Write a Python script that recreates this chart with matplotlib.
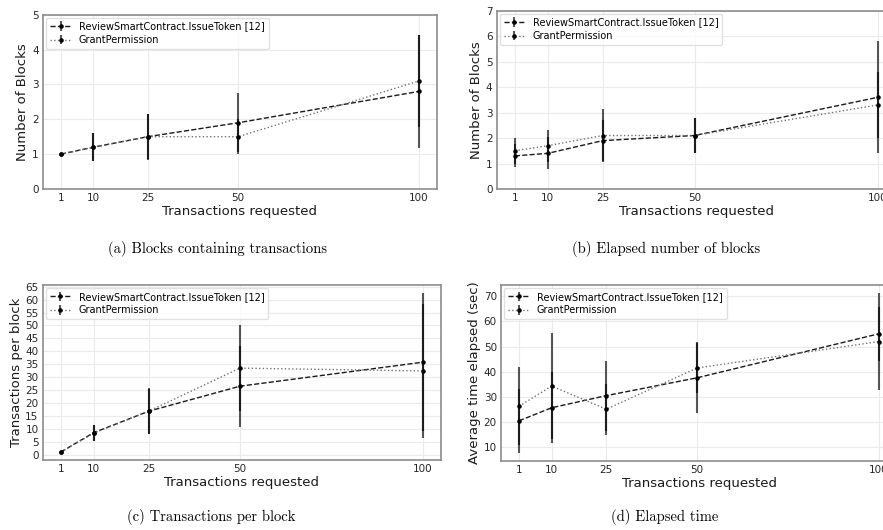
import numpy as np
import matplotlib
matplotlib.use("Agg")
import matplotlib.pyplot as plt

# x positions (transactions requested)
tx = [1, 10, 25, 50, 100]

# (a) blocks containing transactions
a_review = [1.0, 1.2, 1.5, 1.9, 2.8]
a_review_err = [0.0, 0.4, 0.65, 0.85, 1.62]
a_grant = [1.0, 1.2, 1.5, 1.5, 3.1]
a_grant_err = [0.0, 0.41, 0.66, 0.5, 1.32]

# (b) elapsed number of blocks
b_review = [1.3, 1.4, 1.9, 2.1, 3.6]
b_review_err = [0.45, 0.63, 0.82, 0.7, 2.2]
b_grant = [1.5, 1.7, 2.1, 2.1, 3.3]
b_grant_err = [0.52, 0.63, 1.05, 0.7, 1.3]

# (c) transactions per block
c_review = [1.0, 8.5, 16.8, 26.5, 35.8]
c_review_err = [0.0, 3.1, 8.7, 15.7, 26.8]
c_grant = [1.0, 8.3, 16.8, 33.5, 32.4]
c_grant_err = [0.0, 3.1, 9.0, 16.7, 26.0]

# (d) elapsed time (sec)
d_review = [20.5, 25.7, 30.5, 37.6, 55.1]
d_review_err = [12.8, 14.0, 13.9, 14.1, 10.8]
d_grant = [26.3, 34.3, 25.1, 41.5, 52.0]
d_grant_err = [15.6, 21.0, 10.2, 10.0, 19.3]

label_review = "ReviewSmartContract.IssueToken [12]"
label_grant = "GrantPermission"

W, H = 883, 530
fig = plt.figure(figsize=(W / 100, H / 100), dpi=100)


def rect(left, right, top, bottom):
    return [left / W, 1 - bottom / H, (right - left) / W, (bottom - top) / H]


def panel(r, review, review_err, grant, grant_err, ylabel, ylim=None, yticks=None):
    ax = fig.add_axes(r)
    ax.errorbar(tx, review, yerr=review_err, color="0.1", ls="--", lw=1.0,
                marker=".", ms=4.5, mfc="k", mec="k", ecolor=(0, 0, 0, 0.65),
                elinewidth=1.5, label=label_review)
    ax.errorbar(tx, grant, yerr=grant_err, color="0.45", ls=":", lw=1.0,
                marker=".", ms=4.5, mfc="k", mec="k", ecolor=(0, 0, 0, 0.65),
                elinewidth=1.5, label=label_grant)
    ax.set_xticks(tx)
    if ylim is not None:
        ax.set_ylim(*ylim)
    if yticks is not None:
        ax.set_yticks(yticks)
    ax.grid(True, color="0.92", lw=0.8)
    ax.set_axisbelow(True)
    for s in ax.spines.values():
        s.set_color("0.55")
        s.set_linewidth(1.2)
    ax.tick_params(length=0, labelsize=7.5, colors="0.15", pad=3)
    ax.set_xlabel("Transactions requested", fontsize=9.5, color="0.1", labelpad=1)
    ax.set_ylabel(ylabel, fontsize=9.5, color="0.1", labelpad=2)
    ax.legend(loc="upper left", fontsize=7, framealpha=0.8, edgecolor="0.85",
              borderaxespad=0.3, handlelength=2.2, labelspacing=0.35)
    return ax


panel(rect(43, 437, 14.7, 189), a_review, a_review_err, a_grant, a_grant_err,
      "Number of Blocks", ylim=(0, 5), yticks=range(0, 6))
panel(rect(496.7, 896, 10.7, 189), b_review, b_review_err, b_grant, b_grant_err,
      "Number of Blocks", ylim=(0, 7), yticks=range(0, 8))
panel(rect(42.7, 441, 285, 460), c_review, c_review_err, c_grant, c_grant_err,
      "Transactions per block", yticks=range(0, 70, 5))
panel(rect(501, 897, 285, 461), d_review, d_review_err, d_grant, d_grant_err,
      "Average time elapsed (sec)", yticks=range(10, 80, 10))

cap = dict(family="cmr10", fontsize=10.5, ha="center", va="center")
fig.text(218 / W, 1 - 249 / H, "(a) Blocks containing transactions", **cap)
fig.text(666 / W, 1 - 249 / H, "(b) Elapsed number of blocks", **cap)
fig.text(211 / W, 1 - 517 / H, "(c) Transactions per block", **cap)
fig.text(665 / W, 1 - 517 / H, "(d) Elapsed time", **cap)

fig.savefig("out.png", dpi=100)
